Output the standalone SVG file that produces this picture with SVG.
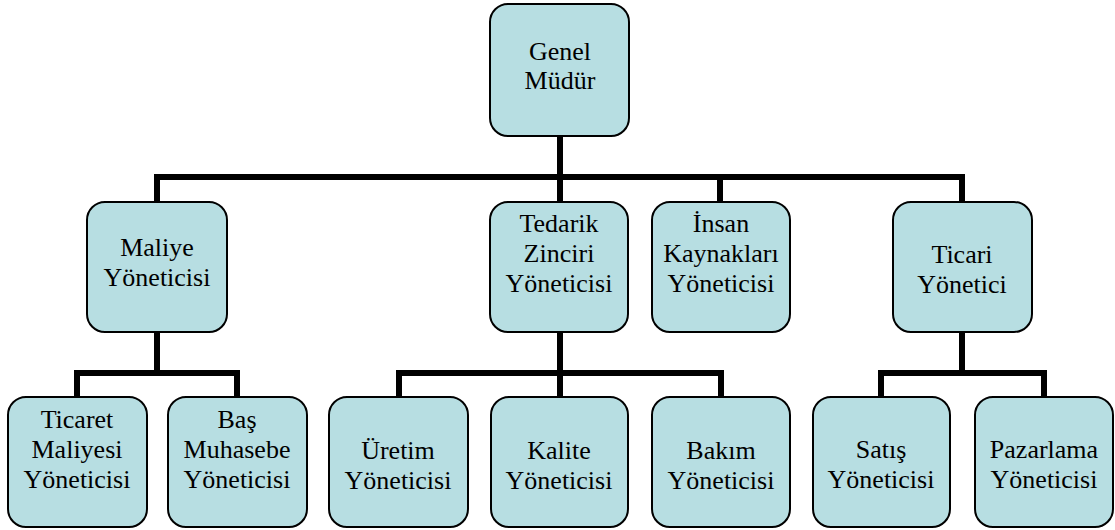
<svg xmlns="http://www.w3.org/2000/svg" width="1115" height="530" viewBox="0 0 1115 530">
<style>
.box{fill:#B7DEE2;stroke:#000;stroke-width:2}
.c{fill:none;stroke:#000;stroke-width:6;stroke-linejoin:miter;stroke-linecap:butt}
text{font-family:'Liberation Serif','Times New Roman',serif;font-size:26px;text-anchor:middle;fill:#000}
</style>
<rect width="1115" height="530" fill="#fff"/>
<g id="connectors">
<path class="c" d="M560 136V177M157 202V177H962V202M560 177V202M720 177V202"/>
<path class="c" d="M157 332V373M77 397V373H237V397"/>
<path class="c" d="M560 332V373M399 397V373H721V397M560 373V397"/>
<path class="c" d="M962 332V373M881 397V373H1044V397"/>
</g>
<g id="genel-mudur"><rect class="box" x="490" y="4" width="139" height="132" rx="18"/><text x="560" y="60">Genel</text><text x="560" y="89">Müdür</text></g>
<g id="maliye"><rect class="box" x="87" y="202" width="140" height="130" rx="18"/><text x="157" y="256">Maliye</text><text x="157" y="286">Yöneticisi</text></g>
<g id="tedarik"><rect class="box" x="490" y="202" width="138" height="130" rx="18"/><text x="559" y="232">Tedarik</text><text x="559" y="262">Zinciri</text><text x="559" y="292">Yöneticisi</text></g>
<g id="insan"><rect class="box" x="652" y="202" width="138" height="130" rx="18"/><text x="721" y="232">İnsan</text><text x="721" y="262">Kaynakları</text><text x="721" y="292">Yöneticisi</text></g>
<g id="ticari"><rect class="box" x="893" y="202" width="139" height="130" rx="18"/><text x="962" y="263">Ticari</text><text x="962" y="293">Yönetici</text></g>
<g id="ticaret"><rect class="box" x="8" y="397" width="139" height="130" rx="18"/><text x="77" y="428">Ticaret</text><text x="77" y="458">Maliyesi</text><text x="77" y="488">Yöneticisi</text></g>
<g id="bas-muhasebe"><rect class="box" x="168" y="397" width="139" height="130" rx="18"/><text x="237" y="428">Baş</text><text x="237" y="458">Muhasebe</text><text x="237" y="488">Yöneticisi</text></g>
<g id="uretim"><rect class="box" x="329" y="397" width="139" height="130" rx="18"/><text x="398" y="459">Üretim</text><text x="398" y="489">Yöneticisi</text></g>
<g id="kalite"><rect class="box" x="491" y="397" width="137" height="130" rx="18"/><text x="559" y="459">Kalite</text><text x="559" y="489">Yöneticisi</text></g>
<g id="bakim"><rect class="box" x="652" y="397" width="138" height="130" rx="18"/><text x="721" y="459">Bakım</text><text x="721" y="489">Yöneticisi</text></g>
<g id="satis"><rect class="box" x="813" y="397" width="137" height="130" rx="18"/><text x="881" y="458">Satış</text><text x="881" y="488">Yöneticisi</text></g>
<g id="pazarlama"><rect class="box" x="975" y="397" width="138" height="130" rx="18"/><text x="1044" y="458">Pazarlama</text><text x="1044" y="488">Yöneticisi</text></g>
</svg>
